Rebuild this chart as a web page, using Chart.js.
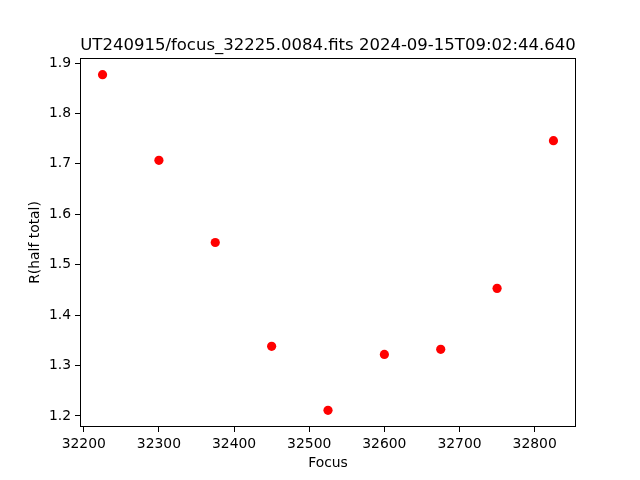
<!DOCTYPE html>
<html>
<head>
<meta charset="utf-8">
<script src="https://cdn.jsdelivr.net/npm/chart.js@4/dist/chart.umd.min.js"></script>
<style>
  html, body { margin: 0; padding: 0; background: #fff; }
  canvas { display: block; }
</style>
</head>
<body>
<canvas id="focusChart" width="640" height="480"></canvas>
<script>
// Focus positions and measured radii
const focusValues = [32225, 32300, 32375, 32450, 32525, 32600, 32675, 32750, 32825];
const radiusValues = [1.877, 1.707, 1.544, 1.338, 1.211, 1.322, 1.332, 1.453, 1.746];

// Tick labels
const xTicks = [32200, 32300, 32400, 32500, 32600, 32700, 32800];
const yTicks = [1.2, 1.3, 1.4, 1.5, 1.6, 1.7, 1.8, 1.9];

const chartTitle = 'UT240915/focus_32225.0084.fits 2024-09-15T09:02:44.640';

const points = focusValues.map((f, i) => ({ x: f, y: radiusValues[i] }));

const fontFamily = '"DejaVu Sans", sans-serif';

// Box around the plot area and the title above it
const frame = {
    id: 'frame',
    afterDraw(chart) {
        const { ctx, chartArea: a } = chart;
        ctx.save();
        ctx.strokeStyle = '#000';
        ctx.lineWidth = 1;
        ctx.strokeRect(a.left + 0.5, a.top + 0.5, a.right - a.left - 1, a.bottom - a.top - 1);
        ctx.fillStyle = '#000';
        ctx.font = '16.5px ' + fontFamily;
        ctx.textAlign = 'center';
        ctx.textBaseline = 'alphabetic';
        ctx.fillText(chartTitle, (a.left + a.right) / 2, a.top - 8);
        ctx.restore();
    }
};

const ctx = document.getElementById('focusChart').getContext('2d');
const focusChart = new Chart(ctx, {
    type: 'scatter',
    data: {
        datasets: [{
            data: points,
            backgroundColor: '#ff0000',
            borderColor: '#ff0000',
            pointRadius: 4.6,
            pointHoverRadius: 4.6,
            borderWidth: 0
        }]
    },
    options: {
        responsive: false,
        animation: false,
        layout: { padding: { top: 58, right: 64, bottom: 0, left: 0 } },
        plugins: {
            legend: { display: false },
            tooltip: { enabled: false }
        },
        scales: {
            x: {
                min: 32195,
                max: 32855,
                afterFit: s => { s.height = 53; },
                afterBuildTicks: s => { s.ticks = xTicks.map(v => ({ value: v })); },
                grid: { drawOnChartArea: false, drawTicks: true, tickLength: 5, color: '#000', lineWidth: 1 },
                border: { display: false },
                ticks: { color: '#000', padding: 4, maxRotation: 0, font: { family: fontFamily, size: 13.9 }, callback: v => String(v) },
                title: { display: true, text: 'Focus', color: '#000', font: { family: fontFamily, size: 13.9 }, padding: { top: 0, bottom: 8 } }
            },
            y: {
                min: 1.178,
                max: 1.910,
                afterFit: s => { s.width = 80; },
                afterBuildTicks: s => { s.ticks = yTicks.map(v => ({ value: v })); },
                grid: { drawOnChartArea: false, drawTicks: true, tickLength: 5, color: '#000', lineWidth: 1 },
                border: { display: false },
                ticks: { color: '#000', padding: 4, font: { family: fontFamily, size: 13.9 }, callback: v => v.toFixed(1) },
                title: { display: true, text: 'R(half total)', color: '#000', font: { family: fontFamily, size: 13.9 }, padding: { top: 27, bottom: 0 } }
            }
        }
    },
    plugins: [frame]
});
</script>
</body>
</html>
